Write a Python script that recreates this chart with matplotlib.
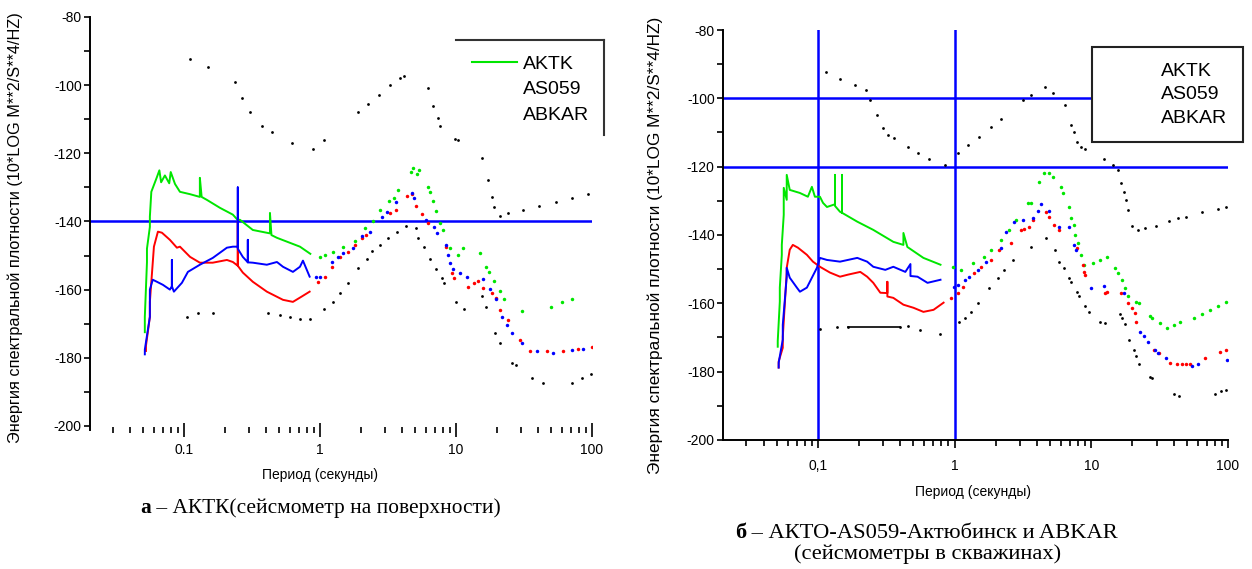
import numpy as np
import matplotlib
matplotlib.use('Agg')
import matplotlib.pyplot as plt
from matplotlib.lines import Line2D
from matplotlib.ticker import FixedLocator, LogLocator, NullFormatter, MultipleLocator

plt.rcParams['font.family'] = ['Liberation Sans', 'DejaVu Sans']
plt.rcParams['axes.unicode_minus'] = False

W, H = 1252, 569

stations = ['AKTK', 'AS059', 'ABKAR']
x_ticks = [0.1, 1, 10, 100]
y_ticks = [-80, -100, -120, -140, -160, -180, -200]
y_labels = ['-80', '-100', '-120', '-140', '-160', '-180', '-200']

# ---------- panel a (AKTK, surface) ----------
nhnm_a_T = [0.111, 0.15, 0.237, 0.267, 0.305, 0.375, 0.444, 0.62, 0.89, 1.07, 1.9, 2.25, 2.7, 3.3,
            3.9, 4.15, 6.2, 6.8, 7.4, 7.6, 9.8, 10.3, 15.5, 17.2, 18.4, 19, 21, 24, 31, 41, 54, 71, 93]
nhnm_a_db = [-92.3, -94.7, -99, -103.8, -108, -112, -113.8, -117, -118.7, -116, -108, -105.6, -103, -100,
             -98, -97.4, -100.9, -106, -109.6, -112, -115.8, -116, -121.4, -127.8, -132.7, -135.7, -138.4,
             -137.5, -136.6, -135.4, -134.2, -133, -131.9]
nlnm_a_T = [0.105, 0.127, 0.163, 0.415, 0.508, 0.6, 0.71, 0.84, 1.07, 1.25, 1.4, 1.6, 1.9, 2.2, 2.4, 2.76,
            3.15, 3.7, 4.3, 5.1, 5.3, 5.8, 6.4, 7.1, 7.9, 8.1, 10, 11.5, 15.5, 16.6, 19.5, 21, 26, 27.5,
            36.5, 44, 71, 84, 99]
nlnm_a_db = [-168, -167, -166.8, -166.8, -167.4, -168, -168.6, -168.6, -165.6, -163.6, -161, -158, -153.6,
             -151, -148.6, -146.9, -145, -143, -141.3, -142, -144.8, -147.4, -151, -154, -156.5, -158,
             -163.6, -165.6, -162, -165, -172.6, -175.6, -181.5, -182, -186, -187.3, -187.3, -186, -184.7]

aktk_a_T = [0.0516, 0.0516, 0.0535, 0.0535, 0.0562, 0.0562, 0.0576, 0.0633, 0.066, 0.068, 0.0725, 0.078,
            0.08, 0.086, 0.0935, 0.111, 0.131, 0.131, 0.135, 0.148, 0.184, 0.229, 0.249, 0.258, 0.321,
            0.429, 0.429, 0.44, 0.483, 0.713, 0.85,
            1.0, 1.09, 1.25, 1.48, 1.81, 2.14, 2.46, 2.76, 3.22, 3.5, 3.75, 4.67, 4.83, 5.17, 5.35, 6.23,
            6.44, 6.78, 7.13, 7.63, 8.02, 9.04, 10.3, 11.3, 15, 16.6, 17.5, 19, 21.1, 22.5, 30.6, 50, 60, 71.3]
aktk_a_db = [-172.5, -168, -152, -148, -141.6, -138.6, -131.3, -127, -125, -128.5, -126.5, -128.8,
             -125.5, -129, -131.3, -132, -132.8, -127.2, -132.8, -133.7, -136, -138, -139.6, -139.5, -142.5,
             -143.5, -137.5, -144, -144.8, -147.4, -149.5,
             -150.4, -149.8, -149, -147.4, -145.7, -142, -140, -136.6, -134, -133, -130.7, -125.4, -124.3,
             -126, -125, -130, -131.3, -134, -137, -140.4, -142.5, -147.7, -149.8, -147.7, -149.2, -153.3,
             -154.8, -157.4, -160.4, -162.7, -166.2, -165, -163.6, -162.7]

as059_a_T = [0.0526, 0.0526, 0.0562, 0.0562, 0.0602, 0.0644, 0.0689, 0.0789, 0.0888, 0.0935, 0.111,
             0.131, 0.163, 0.207, 0.229, 0.249, 0.249, 0.249, 0.271, 0.321, 0.407, 0.535, 0.633, 0.737, 0.84,
             0.965, 1.09, 1.23, 1.4, 1.6, 1.81, 2.05, 2.18, 3.3, 3.6, 4.4, 4.75, 5.1, 5.6, 6.23, 8.4, 9.3,
             9.6, 12.2, 13.5, 14.5, 15.8, 18.4, 19.6, 21.1, 24.3, 29.6, 35, 47, 61, 79, 100]
as059_a_db = [-178, -176.5, -168, -163.6, -147.4, -143, -143.3, -145.4, -147.7, -147.4, -150.4, -152.1,
              -152.1, -151.3, -151.9, -153, -140, -153, -155, -157.7, -160.6, -163, -163.6, -162, -160.6,
              -157.7, -156.2, -153.3, -150.4, -149, -146.9, -145, -144, -137.5, -136.6, -132.5, -131.9,
              -135.4, -137.8, -140.4, -147.4, -155, -156.5, -159.2, -158, -157.4, -159.5, -161, -162.4, -166,
              -168.9, -174.7, -178, -178, -178, -177.4, -176.8]

abkar_a_T = [0.0516, 0.0516, 0.0562, 0.0562, 0.059, 0.0633, 0.0701, 0.0789, 0.0816, 0.0816, 0.0816,
             0.0844, 0.0967, 0.107, 0.131, 0.163, 0.207, 0.229, 0.249, 0.249, 0.249, 0.271, 0.295, 0.295,
             0.295, 0.321, 0.407, 0.483, 0.535, 0.633, 0.713, 0.75, 0.84,
             0.93, 1.0, 1.23, 1.35, 1.48, 1.74, 2.03, 2.33, 2.85, 3.1, 3.6, 4.75, 4.9, 6.0, 6.9, 7.2, 8.4,
             8.7, 9.0, 9.5, 10.7, 12.0, 15.8, 17.8, 19.6, 21.8, 23.7, 25.8, 30.6, 39.3, 51.5, 71.3, 85.5]
abkar_a_db = [-179, -177.6, -168, -160, -157.1, -157.7, -158.6, -160, -159, -151.3, -159, -160.6, -158,
              -154.8, -152.7, -150.7, -147.7, -147.4, -147.4, -130, -148, -150.4, -152, -145.4, -152, -152.1,
              -152.7, -151.9, -153.3, -154.8, -153.3, -151.5, -156.2,
              -156.2, -156.2, -151.9, -150.4, -149.2, -147.7, -144.2, -143, -138.6, -137.2, -134.2, -131.6,
              -133, -139.5, -141.6, -143.3, -146.9, -149.8, -152.1, -153.9, -155, -156.2, -156.8, -159.8,
              -162.7, -168, -170.3, -172.7, -175.6, -178, -178.5, -177.6, -177.4]

# ---------- panel b (AKTO-AS059 and ABKAR, boreholes) ----------
nhnm_b_T = [0.1145, 0.145, 0.187, 0.225, 0.241, 0.271, 0.301, 0.327, 0.362, 0.459, 0.544, 0.644, 0.844,
            1.05, 1.25, 1.5, 1.84, 2.18, 3.16, 3.62, 4.59, 5.26, 6.44, 7.13, 7.5, 7.89, 8.44, 9.04, 12.3,
            14.5, 15.8, 16.6, 17.2, 17.8, 18.7, 19.7, 21.8, 24.9, 29.6, 36.8, 42.9, 49.1, 64.4, 84.4, 96.6]
nhnm_b_db = [-92.3, -94.3, -96, -97.5, -100.5, -105, -108.7, -110.8, -111.7, -114.3, -116, -117.7, -119.5,
             -116, -113.7, -111.3, -108.4, -106, -100.5, -99, -96.7, -98.5, -102, -107.8, -109.8, -112.8,
             -114.2, -114.8, -117.7, -119.4, -121, -124.9, -127.5, -129.9, -132.6, -137.3, -138.5, -137.9,
             -137.3, -135.9, -135.1, -134.6, -133.2, -132.3, -131.8]
nlnm_b_T = [0.1034, 0.138, 0.166, 0.4, 0.459, 0.562, 0.788, 1.07, 1.185, 1.31, 1.48, 1.78, 2.07, 2.29, 2.67,
            3.62, 4.67, 5.43, 5.82, 6.32, 6.89, 7.13, 7.89, 8.16, 9.04, 9.67, 11.5, 12.5, 16.1, 16.9, 17.5,
            19, 20.4, 21.1, 22.5, 26.7, 27.6, 40.1, 43.6, 80.1, 88.8, 96.6]
nlnm_b_db = [-167.4, -167, -166.8, -166.8, -166.5, -167.7, -168.9, -165.4, -164.2, -162.5, -159.8, -155.4,
             -152.5, -150.2, -147.3, -143.4, -140.8, -144.3, -148, -149.6, -152.5, -153.7, -156.6, -158,
             -160.7, -162.5, -165.4, -165.7, -163, -164.2, -166, -170.6, -173.6, -175.3, -177.7, -181.5,
             -181.8, -186.4, -187, -186.4, -185.8, -185.3]

aktk_b_T = [0.0508, 0.0508, 0.0526, 0.0526, 0.0544, 0.0544, 0.0562, 0.0562, 0.0591, 0.0591, 0.0622, 0.0738,
            0.0844, 0.0903, 0.095, 0.1034, 0.1089, 0.1164, 0.1333, 0.1333, 0.1333, 0.145, 0.15, 0.15, 0.15,
            0.194, 0.254, 0.356, 0.422, 0.422, 0.451, 0.591, 0.788,
            0.967, 1.106, 1.36, 1.63, 1.84, 2.18, 2.5, 2.81, 3.44, 3.62, 4.15, 4.51, 4.91, 5.26, 6.02, 6.22,
            6.89, 7.13, 7.5, 7.63, 8.02, 8.44, 8.89, 10.3, 11.5, 13.1, 14.8, 15.8, 16.9, 17.5, 18.4, 21.1,
            22.2, 26.7, 27.6, 31.6, 35.6, 40.1, 44.4, 56.2, 64.4, 73.8, 84.4, 96.6]
aktk_b_db = [-172.7, -171, -159.5, -155.4, -145.8, -142.9, -134.1, -126.2, -129.7, -122.4, -126.8, -127.7,
             -128.8, -125.9, -128.8, -128.8, -130.6, -131.8, -131, -122.4, -131.5, -133.2, -133.5, -122.4,
             -133.5, -136.1, -138.5, -142, -142.9, -139.4, -143.5, -146.7, -148.7,
             -149.3, -150.2, -148.1, -146.4, -144.3, -141.4, -138.5, -135.6, -130.6, -130.6, -124.4, -121.8,
             -121.8, -123, -125.9, -127.7, -131.8, -135, -137, -139.9, -142.3, -145.8, -148.7, -148.1,
             -147.3, -146.4, -149.6, -151, -153.1, -155.4, -157.8, -159.5, -159.8, -163.6, -164.2, -165.7,
             -167.1, -166.3, -165.4, -164.2, -163, -161.9, -160.7, -159.5]

as059_b_T = [0.0516, 0.0516, 0.0553, 0.0553, 0.0591, 0.0591, 0.0622, 0.0655, 0.0713, 0.083, 0.0919, 0.1034,
             0.1225, 0.145, 0.166, 0.204, 0.229, 0.254, 0.286, 0.322, 0.322, 0.322, 0.356, 0.422, 0.5, 0.591,
             0.701, 0.83,
             0.935, 1.05, 1.16, 1.38, 1.55, 1.84, 2.11, 2.58, 3.06, 3.22, 3.5, 3.75, 4.67, 4.91, 5.35, 5.82,
             7.89, 8.73, 8.89, 9.04, 12.5, 13.1, 16.6, 18.7, 19.7, 20.7, 21.4, 28.6, 31.1, 37.5, 42.2, 46,
             49, 52.6, 67.8, 87.3, 96.6]
as059_b_db = [-178.8, -177, -173, -169.8, -151, -149.6, -144.3, -142.9, -143.7, -145.8, -147.8, -149.3,
              -151, -152.2, -151.6, -150.8, -152.2, -154, -156.9, -157, -153.7, -158, -158.4, -160.4, -161.3,
              -162.5, -161.9, -159.8,
              -158.4, -156.9, -155.1, -151, -149.3, -147.3, -144.3, -142.3, -138.5, -138.2, -137.6, -135.6,
              -133.2, -134.7, -137, -138.5, -143.7, -148.7, -150.8, -151.6, -156.9, -156.6, -156.9, -159.8,
              -161.3, -162.7, -165.4, -173.6, -174.4, -177.4, -177.7, -177.7, -177.7, -177.7, -175.9,
              -174.2, -173.6]

abkar_b_T = [0.0516, 0.0516, 0.0553, 0.0553, 0.0591, 0.0591, 0.0622, 0.0701, 0.0738, 0.083, 0.0903, 0.0983,
             0.1034, 0.1164, 0.145, 0.194, 0.229, 0.254, 0.311, 0.356, 0.436, 0.475, 0.475, 0.535, 0.633,
             0.788,
             0.984, 1.05, 1.2, 1.27, 1.48, 1.69, 2.18, 2.37, 2.71, 3.16, 3.75, 4.08, 4.29, 4.91, 5.82, 6.89,
             7.5, 7.76, 10, 12.3, 17.2, 22.9, 24.1, 25.8, 29, 30.6, 35, 54.4, 60.1, 98.3]
abkar_b_db = [-178.8, -177.4, -170.6, -166.3, -152.2, -149.6, -152.5, -155.4, -156.6, -155.4, -152.5,
              -149.6, -146.7, -147.3, -147.8, -146.7, -147.8, -149.3, -150.2, -149.3, -150.8, -148.5, -152,
              -152.2, -154, -153.1,
              -155.1, -154.6, -153.1, -152.2, -150.2, -147.8, -143.7, -139, -136.1, -135.6, -135, -132.9,
              -130.9, -132.9, -137.6, -137.6, -142.9, -144.3, -155.4, -154.8, -156.9, -168.3, -169.5, -171.2,
              -173.6, -174.4, -175.9, -178.2, -177.7, -176.5]

GREEN = '#00e600'
RED = '#ff0000'
BLUE = '#0000ff'
DENSE_LIMIT = 0.9   # below this period the spectra are dense (drawn as lines)


def draw_station(ax, T, db, color):
    T = np.asarray(T)
    db = np.asarray(db)
    m = T < DENSE_LIMIT
    ax.plot(T[m], db[m], color=color, lw=1.4, zorder=3)
    ax.plot(T[~m], db[~m], ls='none', marker='o', ms=2.5, mew=0, color=color, zorder=3)


def draw_model(ax, T, db):
    ax.plot(T, db, ls='none', marker='o', ms=2.0, mew=0, color='k', zorder=3)


def setup(ax, xlim, ylim, xlabels):
    ax.set_xscale('log')
    ax.set_xlim(*xlim)
    ax.set_ylim(*ylim)
    ax.xaxis.set_major_locator(FixedLocator(x_ticks))
    ax.set_xticklabels(xlabels)
    ax.xaxis.set_minor_locator(LogLocator(subs=range(2, 10)))
    ax.xaxis.set_minor_formatter(NullFormatter())
    ax.set_yticks(y_ticks)
    ax.set_yticklabels(y_labels)
    ax.yaxis.set_minor_locator(MultipleLocator(10))
    ax.spines[['top', 'right']].set_visible(False)
    ax.spines['left'].set_linewidth(1.4)
    ax.spines['bottom'].set_linewidth(1.4)
    ax.tick_params(axis='y', which='both', direction='out', length=4, width=1.2, labelsize=10, pad=2)
    ax.patch.set_alpha(0)


fig = plt.figure(figsize=(W / 100, H / 100), dpi=100)

# panel a
ax_a = fig.add_axes([90 / W, 1 - 430 / H, (592 - 90) / W, (430 - 17) / H])
setup(ax_a, (0.0204, 100), (-201.2, -80), ['0.1', '1', '10', '100'])
ax_a.spines['bottom'].set_visible(False)
ax_a.tick_params(axis='x', which='major', direction='inout', length=10, width=1.2, labelsize=10, pad=4)
ax_a.tick_params(axis='x', which='minor', direction='inout', length=5, width=1.2)
ax_a.axhline(-140, color=BLUE, lw=1.8, zorder=2)
draw_model(ax_a, nhnm_a_T, nhnm_a_db)
draw_model(ax_a, nlnm_a_T, nlnm_a_db)
draw_station(ax_a, aktk_a_T, aktk_a_db, GREEN)
draw_station(ax_a, as059_a_T, as059_a_db, RED)
draw_station(ax_a, abkar_a_T, abkar_a_db, BLUE)

handles_a = [Line2D([], [], color=GREEN, lw=1.5), Line2D([], [], color='none'), Line2D([], [], color='none')]
ax_a.legend(handles_a, stations, loc='upper left', bbox_to_anchor=(472 / W, 1 - 55 / H),
            bbox_transform=fig.transFigure, frameon=False, fontsize=14, handlelength=2.3,
            handletextpad=0.3, labelspacing=0.42, borderpad=0, borderaxespad=0)
fig.add_artist(Line2D([456 / W, 604 / W], [1 - 40 / H, 1 - 40 / H], color='#333333', lw=1.5))
fig.add_artist(Line2D([604 / W, 604 / W], [1 - 40 / H, 1 - 135 / H], color='#333333', lw=1.5))

# panel b
ax_b = fig.add_axes([723 / W, 1 - 440 / H, (1228 - 723) / W, (440 - 30) / H])
setup(ax_b, (0.0202, 100), (-200, -80), ['0,1', '1', '10', '100'])
ax_b.tick_params(axis='x', which='major', direction='out', length=6, width=1.2, labelsize=10, pad=8)
ax_b.tick_params(axis='x', which='minor', direction='out', length=4, width=1.2)
for v in (-100, -120):
    ax_b.axhline(v, color=BLUE, lw=1.8, zorder=2)
for v in (0.1, 1):
    ax_b.axvline(v, color=BLUE, lw=1.8, zorder=2)
draw_model(ax_b, nhnm_b_T, nhnm_b_db)
draw_model(ax_b, nlnm_b_T, nlnm_b_db)
ax_b.plot(nlnm_b_T[2:4], nlnm_b_db[2:4], color='k', lw=1.2, zorder=3)
draw_station(ax_b, aktk_b_T, aktk_b_db, GREEN)
draw_station(ax_b, as059_b_T, as059_b_db, RED)
draw_station(ax_b, abkar_b_T, abkar_b_db, BLUE)

handles_b = [Line2D([], [], color='none') for _ in stations]
leg_b = ax_b.legend(handles_b, stations, loc='upper left', bbox_to_anchor=(1092 / W, 1 - 47 / H),
                    bbox_transform=fig.transFigure, frameon=True, fancybox=False, fontsize=14,
                    handlelength=2.45, handletextpad=0.33, labelspacing=0.3, borderpad=0.78,
                    borderaxespad=0, facecolor='white', framealpha=1, edgecolor='#222222')
leg_b.get_frame().set_linewidth(1.5)
leg_b.set_zorder(5)

# axis titles
ylab = 'Энергия спектральной плотности (10*LOG M**2/S**4/HZ)'
fig.text(15 / W, 1 - 228 / H, ylab, rotation=90, ha='center', va='center', fontsize=11.7)
fig.text(655 / W, 1 - 245 / H, ylab, rotation=90, ha='center', va='center', fontsize=12.4)
fig.text(320 / W, 1 - 475 / H, 'Период (секунды)', ha='center', va='center', fontsize=10)
fig.text(973 / W, 1 - 492 / H, 'Период (секунды)', ha='center', va='center', fontsize=10)

# captions
serif = ['Liberation Serif', 'DejaVu Serif']
ta = fig.text(140 / W, 1 - 508 / H, 'а', ha='left', va='center', fontsize=15.4, fontweight='bold', family=serif)
ax_a.annotate(' – АКТК(сейсмометр на поверхности)', xy=(1, 0), xycoords=ta, ha='left', va='bottom',
              fontsize=15.4, family=serif, annotation_clip=False)
tb = fig.text(735 / W, 1 - 533 / H, 'б', ha='left', va='center', fontsize=16.2, fontweight='bold', family=serif)
ax_b.annotate(' – АКТО-AS059-Актюбинск и ABKAR', xy=(1, 0), xycoords=tb, ha='left', va='bottom',
              fontsize=16.2, family=serif, annotation_clip=False)
fig.text(928 / W, 1 - 554 / H, '(сейсмометры в скважинах)', ha='center', va='center', fontsize=16.2,
         family=serif)

fig.savefig('out.png', dpi=100)
